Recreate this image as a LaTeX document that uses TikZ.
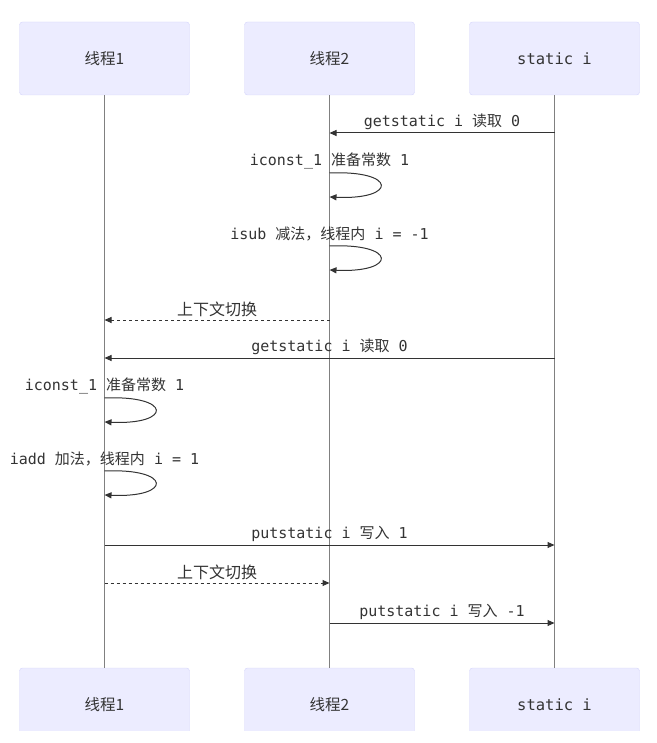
\documentclass[tikz,border=0pt]{standalone}
\usepackage{fontspec}
\setmonofont{DejaVu Sans Mono}
\newfontfamily\cjk{Noto Sans CJK SC}
\usetikzlibrary{arrows.meta}
\definecolor{actorfill}{HTML}{ECECFF}
\definecolor{actorline}{HTML}{D4D4FB}
\definecolor{lifegrey}{HTML}{808080}
\definecolor{txt}{HTML}{333333}
\newcommand{\zh}[1]{{\cjk #1}}

\begin{document}
\begin{tikzpicture}[x=1pt,y=-1pt,
    actor/.style={draw=actorline, fill=actorfill, rounded corners=3pt, minimum width=170pt,
      minimum height=73pt, inner sep=0pt, text=txt, font=\cjk\fontsize{15.5}{18}\selectfont},
    lifeline/.style={draw=lifegrey, line width=0.8pt},
    msg/.style={draw=txt, line width=1pt, -{Triangle[length=7pt,width=6pt]}},
    reply/.style={msg, dash pattern=on 3pt off 3pt},
    lbl/.style={text=txt, inner sep=0pt, font=\ttfamily\fontsize{15}{18}\selectfont}]
      \useasboundingbox (0,0) rectangle (656,743);
      \clip (0,0) rectangle (656,730);

      \node [actor] (a1) at (104.5, 58.5) {线程1};
      \node [actor] (a2) at (329.5, 58.5) {线程2};
      \node [actor] (a3) at (554.5, 58.5) {\ttfamily static i};

      \node [actor] (b1) at (104.5, 704.5) {线程1};
      \node [actor] (b2) at (329.5, 704.5) {线程2};
      \node [actor] (b3) at (554.5, 704.5) {\ttfamily static i};

      \draw [lifeline] (a1) -- (b1);
      \draw [lifeline] (a2) -- (b2);
      \draw [lifeline] (a3) -- (b3);

      % thread 2 reads, computes
      \draw [msg] (a3 |- 0,133) -- node [lbl, above=3pt] (m1) {getstatic i \zh{读取} 0} (a2 |- 0,133);

      \node [lbl] (m2) at (a2 |- 0,161) {iconst\_1 \zh{准备常数} 1};
      \draw [msg] (a2 |- 0,173) .. controls +(68,-3) and +(68,3) .. (a2 |- 0,197);

      \node [lbl] (m3) at (a2 |- 0,234) {isub \zh{减法，线程内} i = -1};
      \draw [msg] (a2 |- 0,246) .. controls +(68,-3) and +(68,3) .. (a2 |- 0,270);

      \draw [reply] (a2 |- 0,320) -- node [lbl, above=3pt, font=\cjk\fontsize{16}{18}\selectfont] (m4) {上下文切换} (a1 |- 0,320);

      % thread 1 reads, computes, writes
      \draw [msg] (a3 |- 0,358) -- node [lbl, above=3pt] (m5) {getstatic i \zh{读取} 0} (a1 |- 0,358);

      \node [lbl] (m6) at (a1 |- 0,386) {iconst\_1 \zh{准备常数} 1};
      \draw [msg] (a1 |- 0,398) .. controls +(68,-3) and +(68,3) .. (a1 |- 0,422);

      \node [lbl] (m7) at (a1 |- 0,459) {iadd \zh{加法，线程内} i = 1};
      \draw [msg] (a1 |- 0,471) .. controls +(68,-3) and +(68,3) .. (a1 |- 0,495);

      \draw [msg] (a1 |- 0,545) -- node [lbl, above=3pt] (m8) {putstatic i \zh{写入} 1} (a3 |- 0,545);

      \draw [reply] (a1 |- 0,583) -- node [lbl, above=3pt, font=\cjk\fontsize{16}{18}\selectfont] (m9) {上下文切换} (a2 |- 0,583);

      \draw [msg] (a2 |- 0,623) -- node [lbl, above=3pt] (m10) {putstatic i \zh{写入} -1} (a3 |- 0,623);
\end{tikzpicture}
\end{document}
